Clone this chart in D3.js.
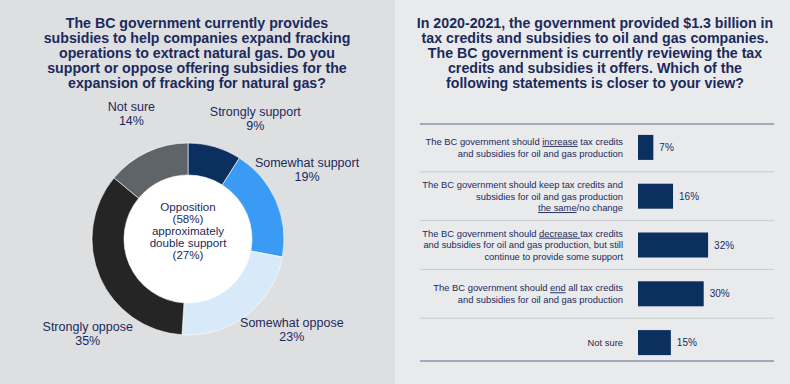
<!DOCTYPE html>
<html>
<head>
<meta charset="utf-8">
<script src="https://cdn.jsdelivr.net/npm/d3@7"></script>
<style>
  body { margin: 0; background: #e9eaec; }
  svg { display: block; font-family: "Liberation Sans", Arial, Helvetica, sans-serif; }
</style>
</head>
<body>
<svg id="chart" width="790" height="384"></svg>
<script>
// Left panel: donut
const donutTitle = [
  'The BC government currently provides',
  'subsidies to help companies expand fracking',
  'operations to extract natural gas. Do you',
  'support or oppose offering subsidies for the',
  'expansion of fracking for natural gas?'
];
const donutCategories = ['Strongly support', 'Somewhat support', 'Somewhat oppose', 'Strongly oppose', 'Not sure'];
const donutValues = [9, 19, 23, 35, 14];
const donutColors = ['#0b2f5e', '#3a9bf5', '#d8e9fa', '#252525', '#5f6468'];
const centerText = ['Opposition', '(58%)', 'approximately', 'double support', '(27%)'];

// Right panel: bars
const barTitle = [
  'In 2020-2021, the government provided $1.3 billion in',
  'tax credits and subsidies to oil and gas companies.',
  'The BC government is currently reviewing the tax',
  'credits and subsidies it offers. Which of the',
  'following statements is closer to your view?'
];
// _text_ marks underlined words
const barLabels = [
  ['The BC government should _increase_ tax credits', 'and subsidies for oil and gas production'],
  ['The BC government should keep tax credits and', 'subsidies for oil and gas production', '_the same_/no change'],
  ['The BC government should _decrease _tax credits', 'and subsidies for oil and gas production, but still', 'continue to provide some support'],
  ['The BC government should _end_ all tax credits', 'and subsidies for oil and gas production'],
  ['Not sure']
];
const barValues = [7, 16, 32, 30, 15];

const navy = '#1b2a5c';
const svg = d3.select('#chart');

// backgrounds
svg.append('rect').attr('x', 0).attr('y', 0).attr('width', 395).attr('height', 384).attr('fill', '#dedfe1');
svg.append('rect').attr('x', 395).attr('y', 0).attr('width', 395).attr('height', 384).attr('fill', '#e9eaec');

function drawTitle(lines, cx) {
  svg.append('text')
    .attr('text-anchor', 'middle')
    .attr('font-size', 14.2)
    .attr('font-weight', 'bold')
    .attr('fill', navy)
    .selectAll('tspan')
    .data(lines)
    .join('tspan')
    .attr('x', cx)
    .attr('y', (d, i) => 28 + i * 15)
    .text(d => d);
}
drawTitle(donutTitle, 197);
drawTitle(barTitle, 595);

// ---- donut ----
const cx = 188, cy = 239, outerR = 96, innerR = 64;
const pie = d3.pie().sort(null).value(d => d.value);
const arcs = pie(donutCategories.map((c, i) => ({name: c, value: donutValues[i], color: donutColors[i]})));
const arc = d3.arc().innerRadius(innerR).outerRadius(outerR);

const g = svg.append('g').attr('transform', 'translate(' + cx + ',' + cy + ')');
g.append('circle').attr('r', innerR).attr('fill', '#fff');
g.selectAll('path')
  .data(arcs)
  .join('path')
  .attr('d', arc)
  .attr('fill', d => d.data.color)
  .attr('stroke', '#fff')
  .attr('stroke-width', 0.6);

// labels sit around the ring, nudged off the slice middle to avoid crowding
const labelR = 138;
const labelShift = [13, -7, -11, -20, 1];
const lab = g.selectAll('g.lab')
  .data(arcs)
  .join('g')
  .attr('class', 'lab')
  .attr('transform', (d, i) => {
    const a = (d.startAngle + d.endAngle) / 2 + labelShift[i] * Math.PI / 180;
    return 'translate(' + (Math.sin(a) * labelR) + ',' + (-Math.cos(a) * labelR) + ')';
  });
lab.append('text')
  .attr('text-anchor', 'middle')
  .attr('font-size', 12.5)
  .attr('fill', navy)
  .attr('y', -2.5)
  .text(d => d.data.name);
lab.append('text')
  .attr('text-anchor', 'middle')
  .attr('font-size', 12.5)
  .attr('fill', navy)
  .attr('y', 11.5)
  .text(d => d.data.value + '%');

g.append('text')
  .attr('text-anchor', 'middle')
  .attr('font-size', 11.6)
  .attr('fill', navy)
  .selectAll('tspan')
  .data(centerText)
  .join('tspan')
  .attr('x', 0)
  .attr('y', (d, i) => -28.5 + i * 12.1)
  .text(d => d);

// ---- bars ----
const ruleLeft = 420, ruleRight = 774, barX = 638;
const y = d3.scaleBand()
  .domain(d3.range(barValues.length))
  .range([123, 367]);
const x = d3.scaleLinear().domain([0, 100]).range([0, 219]);
const barH = 25;

// separators between rows
svg.selectAll('line.sep')
  .data(d3.range(1, barValues.length))
  .join('line')
  .attr('class', 'sep')
  .attr('x1', ruleLeft).attr('x2', ruleRight)
  .attr('y1', i => (y(i - 1) + y(i) + y.bandwidth()) / 2)
  .attr('y2', i => (y(i - 1) + y(i) + y.bandwidth()) / 2)
  .attr('stroke', '#c9cbce')
  .attr('stroke-width', 1);

// top and bottom rules
svg.selectAll('line.rule')
  .data([124, 361])
  .join('line')
  .attr('class', 'rule')
  .attr('x1', ruleLeft).attr('x2', ruleRight)
  .attr('y1', d => d).attr('y2', d => d)
  .attr('stroke', '#5b6a8c')
  .attr('stroke-width', 1.2);

svg.selectAll('rect.bar')
  .data(barValues)
  .join('rect')
  .attr('class', 'bar')
  .attr('x', barX)
  .attr('y', (d, i) => y(i) + y.bandwidth() / 2 - barH / 2)
  .attr('width', d => x(d))
  .attr('height', barH)
  .attr('fill', '#0b2f5e');

svg.selectAll('text.val')
  .data(barValues)
  .join('text')
  .attr('class', 'val')
  .attr('x', d => barX + x(d) + 6)
  .attr('y', (d, i) => y(i) + y.bandwidth() / 2 + 3.5)
  .attr('font-size', 10)
  .attr('fill', navy)
  .text(d => d + '%');

const lineH = 11.6;
barLabels.forEach((lines, i) => {
  const mid = y(i) + y.bandwidth() / 2;
  const t = svg.append('text')
    .attr('text-anchor', 'end')
    .attr('font-size', 9.4)
    .attr('fill', navy);
  lines.forEach((line, j) => {
    const ly = mid - (lines.length - 1) * lineH / 2 + j * lineH + 3.3;
    line.split('_').forEach((part, k) => {
      if (!part) return;
      const ts = t.append('tspan').text(part);
      if (k === 0 || (k === 1 && line.startsWith('_'))) ts.attr('x', 623).attr('y', ly);
      if (k % 2 === 1) ts.attr('text-decoration', 'underline');
    });
  });
});
</script>
</body>
</html>
